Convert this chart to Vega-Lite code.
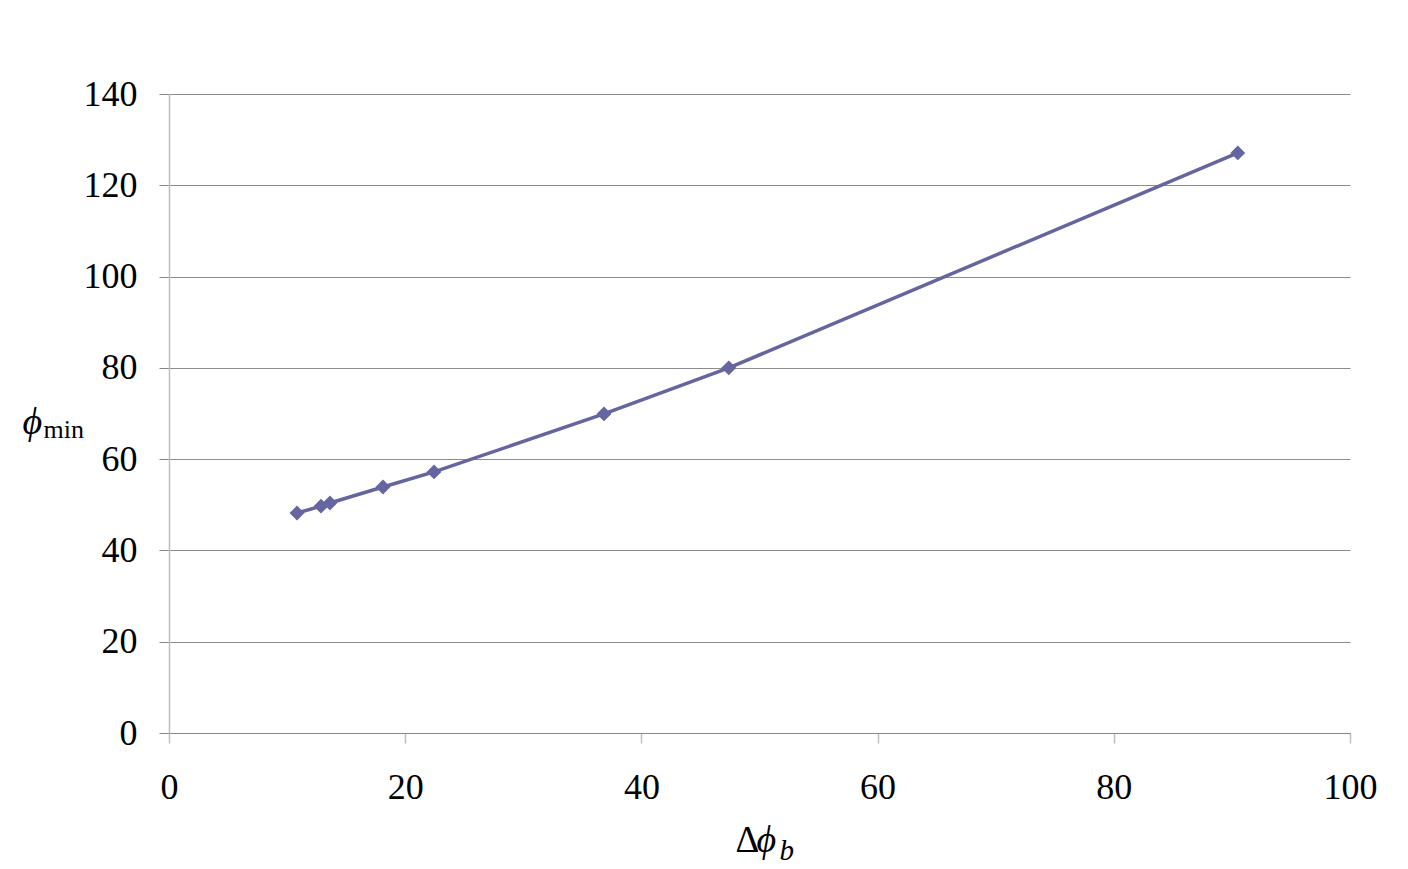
{
  "$schema": "https://vega.github.io/schema/vega-lite/v6.json",
  "width": 1181,
  "height": 639,
  "autosize": {"type": "none"},
  "padding": {"left": 169, "top": 94, "right": 58, "bottom": 136},
  "background": "white",
  "data": {
    "values": [
      {"dphi_b": 10.84, "phi_min": 48.2},
      {"dphi_b": 12.87, "phi_min": 49.7},
      {"dphi_b": 13.63, "phi_min": 50.4},
      {"dphi_b": 18.12, "phi_min": 53.9},
      {"dphi_b": 22.44, "phi_min": 57.2},
      {"dphi_b": 36.83, "phi_min": 69.9},
      {"dphi_b": 47.4, "phi_min": 80.0},
      {"dphi_b": 90.5, "phi_min": 127.1}
    ]
  },
  "config": {
    "view": {"stroke": null},
    "font": "Liberation Serif",
    "axis": {
      "labelFont": "Liberation Serif",
      "titleFont": "Liberation Serif",
      "labelColor": "black",
      "titleColor": "black",
      "titleFontWeight": "normal"
    }
  },
  "resolve": {"axis": {"x": "independent", "y": "independent"}},
  "layer": [
    {
      "mark": {"type": "line", "color": "#65659f", "strokeWidth": 3.5},
      "encoding": {
        "x": {
          "field": "dphi_b", "type": "quantitative",
          "scale": {"domain": [0, 100], "nice": false, "zero": true},
          "axis": {
            "orient": "bottom",
            "values": [0, 20, 40, 60, 80, 100],
            "grid": false,
            "domainColor": "#868686", "domainWidth": 1,
            "tickColor": "#bdbdbd", "tickSize": 10, "tickWidth": 1.5,
            "labelFontSize": 36, "labelPadding": 27, "labelFlush": false,
            "title": "Δ", "titleFontSize": 37,
            "titleAlign": "left", "titleBaseline": "alphabetic",
            "titleX": 566, "titleY": 118
          }
        },
        "y": {
          "field": "phi_min", "type": "quantitative",
          "scale": {"domain": [0, 140], "nice": false},
          "axis": {
            "orient": "left",
            "values": [0, 20, 40, 60, 80, 100, 120, 140],
            "grid": true, "gridColor": "#8c8c8c", "gridWidth": 1,
            "domainColor": "#bdbdbd", "domainWidth": 1.5,
            "tickColor": "#868686", "tickSize": 10, "tickWidth": 1,
            "labelFontSize": 36, "labelPadding": 22, "labelFlush": false,
            "title": "ϕ", "titleFontSize": 38, "titleFontStyle": "italic",
            "titleAngle": 0, "titleAlign": "left", "titleBaseline": "alphabetic",
            "titleX": -147, "titleY": 339
          }
        }
      }
    },
    {
      "mark": {"type": "point", "shape": "diamond", "filled": true, "color": "#65659f", "opacity": 1, "size": 220},
      "encoding": {
        "x": {
          "field": "dphi_b", "type": "quantitative",
          "axis": {
            "orient": "bottom", "domain": false, "ticks": false, "labels": false, "grid": false,
            "title": "ϕ", "titleFontSize": 38, "titleFontStyle": "italic",
            "titleAlign": "left", "titleBaseline": "alphabetic",
            "titleX": 587, "titleY": 118
          }
        },
        "y": {
          "field": "phi_min", "type": "quantitative",
          "axis": {
            "orient": "left", "domain": false, "ticks": false, "labels": false, "grid": false,
            "title": "min", "titleFontSize": 26,
            "titleAngle": 0, "titleAlign": "left", "titleBaseline": "alphabetic",
            "titleX": -126, "titleY": 343
          }
        }
      }
    },
    {
      "mark": {"type": "point", "shape": "diamond", "filled": true, "color": "#65659f", "opacity": 0, "size": 10},
      "encoding": {
        "x": {
          "field": "dphi_b", "type": "quantitative",
          "axis": {
            "orient": "bottom", "domain": false, "ticks": false, "labels": false, "grid": false,
            "title": "b", "titleFontSize": 29, "titleFontStyle": "italic",
            "titleAlign": "left", "titleBaseline": "alphabetic",
            "titleX": 610, "titleY": 126
          }
        },
        "y": {
          "field": "phi_min", "type": "quantitative",
          "axis": null
        }
      }
    }
  ]
}
